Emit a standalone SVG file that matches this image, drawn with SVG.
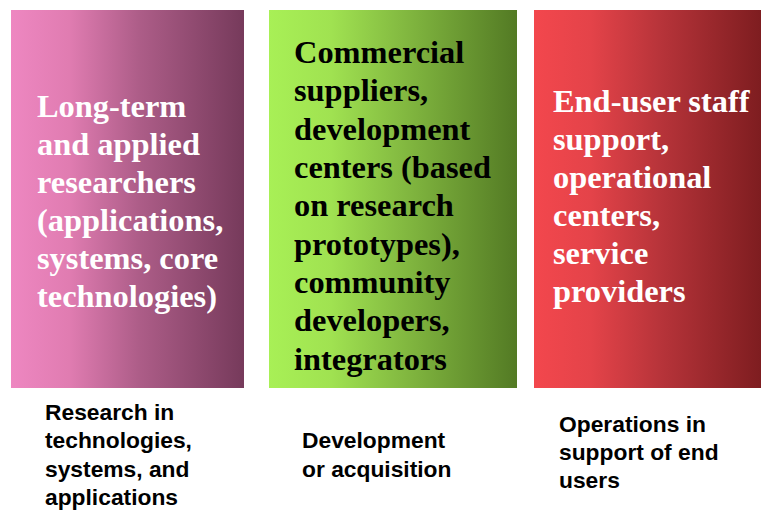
<svg xmlns="http://www.w3.org/2000/svg" width="761" height="510" viewBox="0 0 761 510">
  <defs>
    <linearGradient id="gPink" x1="0" y1="0" x2="1" y2="0">
      <stop offset="0" stop-color="#ee87c1"/>
      <stop offset="0.25" stop-color="#e07cb1"/>
      <stop offset="0.55" stop-color="#ad5d88"/>
      <stop offset="1" stop-color="#763a5b"/>
    </linearGradient>
    <linearGradient id="gGreen" x1="0" y1="0" x2="1" y2="0">
      <stop offset="0" stop-color="#a8f056"/>
      <stop offset="0.25" stop-color="#a0e251"/>
      <stop offset="0.55" stop-color="#82b840"/>
      <stop offset="1" stop-color="#537a24"/>
    </linearGradient>
    <linearGradient id="gRed" x1="0" y1="0" x2="1" y2="0">
      <stop offset="0" stop-color="#f3474d"/>
      <stop offset="0.25" stop-color="#e44349"/>
      <stop offset="0.55" stop-color="#b8343a"/>
      <stop offset="1" stop-color="#7e1d20"/>
    </linearGradient>
  </defs>
  <style>
    .head { font-family: "Liberation Serif", "Times New Roman", serif; font-weight: bold; font-size: 32.4px; }
    .light { fill: #ffffff; }
    .dark { fill: #000000; }
    .cap { font-family: "Liberation Sans", Arial, sans-serif; font-weight: bold; font-size: 22.8px; fill: #000000; }
  </style>

  <g id="research">
    <rect x="11" y="10" width="233" height="378" fill="url(#gPink)"/>
    <text class="head light">
      <tspan x="37" y="117">Long-term</tspan>
      <tspan x="37" y="155">and applied</tspan>
      <tspan x="37" y="193">researchers</tspan>
      <tspan x="37" y="231">(applications,</tspan>
      <tspan x="37" y="269">systems, core</tspan>
      <tspan x="37" y="307">technologies)</tspan>
    </text>
    <text class="cap">
      <tspan x="45" y="420">Research in</tspan>
      <tspan x="45" y="448">technologies,</tspan>
      <tspan x="45" y="477">systems, and</tspan>
      <tspan x="45" y="505">applications</tspan>
    </text>
  </g>

  <g id="development">
    <rect x="269" y="10" width="248" height="378" fill="url(#gGreen)"/>
    <text class="head dark">
      <tspan x="294" y="63">Commercial</tspan>
      <tspan x="294" y="101">suppliers,</tspan>
      <tspan x="294" y="140">development</tspan>
      <tspan x="294" y="178">centers (based</tspan>
      <tspan x="294" y="216">on research</tspan>
      <tspan x="294" y="255">prototypes),</tspan>
      <tspan x="294" y="293">community</tspan>
      <tspan x="294" y="331">developers,</tspan>
      <tspan x="294" y="370">integrators</tspan>
    </text>
    <text class="cap">
      <tspan x="302" y="448">Development</tspan>
      <tspan x="302" y="477">or acquisition</tspan>
    </text>
  </g>

  <g id="operations">
    <rect x="534" y="10" width="227" height="378" fill="url(#gRed)"/>
    <text class="head light">
      <tspan x="553" y="112">End-user staff</tspan>
      <tspan x="553" y="150">support,</tspan>
      <tspan x="553" y="188">operational</tspan>
      <tspan x="553" y="226">centers,</tspan>
      <tspan x="553" y="264">service</tspan>
      <tspan x="553" y="302">providers</tspan>
    </text>
    <text class="cap">
      <tspan x="559" y="432">Operations in</tspan>
      <tspan x="559" y="460">support of end</tspan>
      <tspan x="559" y="488">users</tspan>
    </text>
  </g>

  <g id="connectors"/>
</svg>
